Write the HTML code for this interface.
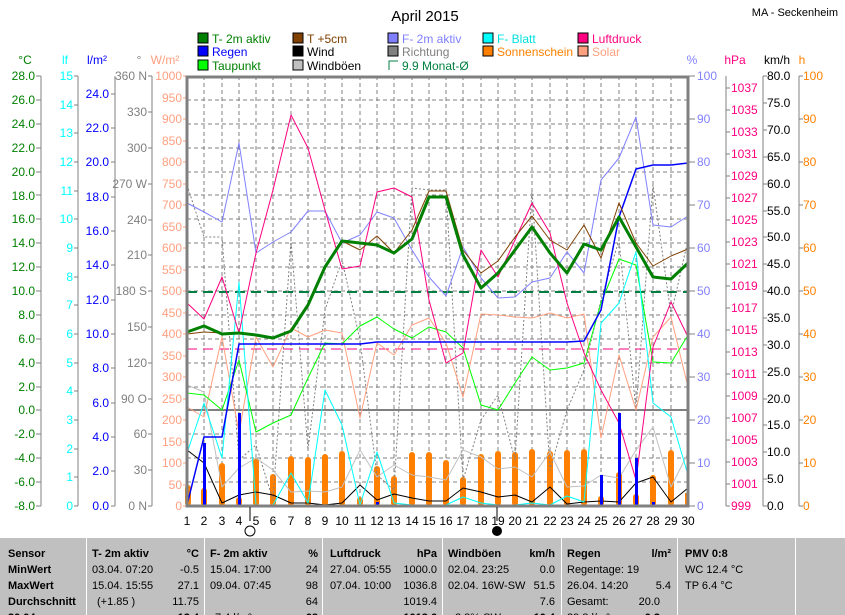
<!DOCTYPE html>
<html><head><meta charset="utf-8"><style>
html,body{margin:0;padding:0;background:#fff;}
svg{display:block;font-family:"Liberation Sans",sans-serif;}
</style></head><body>
<svg width="845" height="615" viewBox="0 0 845 615" xmlns="http://www.w3.org/2000/svg">
<rect width="845" height="615" fill="#fff"/>
<text x="425" y="21" font-size="15" text-anchor="middle">April 2015</text>
<text x="838" y="16" font-size="11" text-anchor="end">MA - Seckenheim</text>

<!-- legend -->
<g font-size="12">
<rect x="198" y="33" width="10" height="10" fill="#008000" stroke="#000"/><text x="212" y="43" fill="#008000">T- 2m aktiv</text>
<rect x="293" y="33" width="10" height="10" fill="#804000" stroke="#000"/><text x="307" y="43" fill="#804000">T +5cm</text>
<rect x="388" y="33" width="10" height="10" fill="#8080ff" stroke="#000"/><text x="402" y="43" fill="#8080ff">F- 2m aktiv</text>
<rect x="483" y="33" width="10" height="10" fill="#00ffff" stroke="#000"/><text x="497" y="43" fill="#00e0e0">F- Blatt</text>
<rect x="578" y="33" width="10" height="10" fill="#ff0080" stroke="#000"/><text x="592" y="43" fill="#ff0080">Luftdruck</text>
<rect x="198" y="46" width="10" height="10" fill="#0000ff" stroke="#000"/><text x="212" y="56" fill="#0000ff">Regen</text>
<rect x="293" y="46" width="10" height="10" fill="#000" stroke="#000"/><text x="307" y="56">Wind</text>
<rect x="388" y="46" width="10" height="10" fill="#808080" stroke="#000"/><text x="402" y="56" fill="#808080">Richtung</text>
<rect x="483" y="46" width="10" height="10" fill="#ff8000" stroke="#000"/><text x="497" y="56" fill="#ff8000">Sonnenschein</text>
<rect x="578" y="46" width="10" height="10" fill="#ffa080" stroke="#000"/><text x="592" y="56" fill="#ffa080">Solar</text>
<rect x="198" y="60" width="10" height="10" fill="#00ff00" stroke="#000"/><text x="212" y="70" fill="#008000">Taupunkt</text>
<rect x="293" y="60" width="10" height="10" fill="#c0c0c0" stroke="#000"/><text x="307" y="70">Windböen</text>
<path d="M389,70 V61 H398" fill="none" stroke="#008040"/><text x="402" y="70" fill="#008040">9.9 Monat-Ø</text>
</g>

<!-- unit labels -->
<g font-size="12">
<text x="25" y="64" fill="#008000" text-anchor="middle">°C</text>
<text x="65" y="64" fill="#00ffff" text-anchor="middle">lf</text>
<text x="97" y="64" fill="#0000ff" text-anchor="middle">l/m²</text>
<text x="139" y="64" fill="#808080" text-anchor="middle">°</text>
<text x="165" y="64" fill="#ffa080" text-anchor="middle">W/m²</text>
<text x="692" y="64" fill="#8080ff" text-anchor="middle">%</text>
<text x="735" y="64" fill="#ff0080" text-anchor="middle">hPa</text>
<text x="777" y="64" text-anchor="middle">km/h</text>
<text x="802" y="64" fill="#ff8000" text-anchor="middle">h</text>
</g>

<!-- axis lines -->
<g stroke="#808080" stroke-width="1">
<line x1="41" y1="76" x2="41" y2="506"/>
<line x1="78" y1="76" x2="78" y2="506"/>
<line x1="115" y1="76" x2="115" y2="506"/>
<line x1="152" y1="76" x2="152" y2="506"/>
<line x1="726" y1="76" x2="726" y2="506"/>
<line x1="763" y1="76" x2="763" y2="506"/>
<line x1="799" y1="76" x2="799" y2="506"/>
</g>

<!-- °C -->
<g font-size="12" fill="#008000" text-anchor="end">
<text x="35" y="80">28.0</text><text x="35" y="104">26.0</text><text x="35" y="128">24.0</text><text x="35" y="152">22.0</text><text x="35" y="176">20.0</text><text x="35" y="200">18.0</text><text x="35" y="223">16.0</text><text x="35" y="247">14.0</text><text x="35" y="271">12.0</text><text x="35" y="295">10.0</text><text x="35" y="319">8.0</text><text x="35" y="343">6.0</text><text x="35" y="367">4.0</text><text x="35" y="391">2.0</text><text x="35" y="414">0.0</text><text x="35" y="438">-2.0</text><text x="35" y="462">-4.0</text><text x="35" y="486">-6.0</text><text x="35" y="510">-8.0</text>
</g>
<path stroke="#808080" d="M36,76h5M36,100h5M36,124h5M36,148h5M36,172h5M36,195h5M36,219h5M36,243h5M36,267h5M36,291h5M36,315h5M36,339h5M36,363h5M36,387h5M36,410h5M36,434h5M36,458h5M36,482h5M36,506h5"/>
<!-- lf -->
<g font-size="12" fill="#00ffff" text-anchor="end">
<text x="73" y="80">15</text><text x="73" y="109">14</text><text x="73" y="137">13</text><text x="73" y="166">12</text><text x="73" y="195">11</text><text x="73" y="223">10</text><text x="73" y="252">9</text><text x="73" y="281">8</text><text x="73" y="309">7</text><text x="73" y="338">6</text><text x="73" y="367">5</text><text x="73" y="395">4</text><text x="73" y="424">3</text><text x="73" y="453">2</text><text x="73" y="481">1</text><text x="73" y="510">0</text>
</g>
<path stroke="#808080" d="M74,76h4M74,105h4M74,133h4M74,162h4M74,191h4M74,219h4M74,248h4M74,277h4M74,305h4M74,334h4M74,363h4M74,391h4M74,420h4M74,449h4M74,477h4M74,506h4"/>
<!-- l/m2 -->
<g font-size="12" fill="#0000ff" text-anchor="end">
<text x="109" y="98">24.0</text><text x="109" y="132">22.0</text><text x="109" y="166">20.0</text><text x="109" y="201">18.0</text><text x="109" y="235">16.0</text><text x="109" y="269">14.0</text><text x="109" y="304">12.0</text><text x="109" y="338">10.0</text><text x="109" y="372">8.0</text><text x="109" y="407">6.0</text><text x="109" y="441">4.0</text><text x="109" y="475">2.0</text><text x="109" y="510">0.0</text>
</g>
<path stroke="#808080" d="M111,94h4M111,128h4M111,162h4M111,197h4M111,231h4M111,265h4M111,300h4M111,334h4M111,368h4M111,403h4M111,437h4M111,471h4M111,506h4"/>
<!-- direction -->
<g font-size="12" fill="#808080" text-anchor="end">
<text x="147" y="80">360 N</text><text x="147" y="116">330</text><text x="147" y="152">300</text><text x="147" y="188">270 W</text><text x="147" y="224">240</text><text x="147" y="259">210</text><text x="147" y="295">180 S</text><text x="147" y="331">150</text><text x="147" y="367">120</text><text x="147" y="403">90 O</text><text x="147" y="438">60</text><text x="147" y="474">30</text><text x="147" y="510">0 N</text>
</g>
<path stroke="#808080" d="M148,76h4M148,112h4M148,148h4M148,184h4M148,220h4M148,255h4M148,291h4M148,327h4M148,363h4M148,399h4M148,434h4M148,470h4M148,506h4"/>
<!-- W/m2 -->
<g font-size="12" fill="#ffa080" text-anchor="end">
<text x="182" y="80">1000</text><text x="182" y="102">950</text><text x="182" y="123">900</text><text x="182" y="145">850</text><text x="182" y="166">800</text><text x="182" y="188">750</text><text x="182" y="209">700</text><text x="182" y="231">650</text><text x="182" y="252">600</text><text x="182" y="274">550</text><text x="182" y="295">500</text><text x="182" y="317">450</text><text x="182" y="338">400</text><text x="182" y="360">350</text><text x="182" y="381">300</text><text x="182" y="403">250</text><text x="182" y="424">200</text><text x="182" y="446">150</text><text x="182" y="467">100</text><text x="182" y="489">50</text><text x="182" y="510">0</text>
</g>
<path stroke="#ffa080" d="M183,76h3M183,98h3M183,119h3M183,141h3M183,162h3M183,184h3M183,205h3M183,227h3M183,248h3M183,270h3M183,291h3M183,313h3M183,334h3M183,356h3M183,377h3M183,399h3M183,420h3M183,442h3M183,463h3M183,485h3M183,506h3"/>

<!-- right axes -->
<g font-size="12" fill="#8080ff">
<text x="697" y="80">100</text><text x="697" y="123">90</text><text x="697" y="166">80</text><text x="697" y="209">70</text><text x="697" y="252">60</text><text x="697" y="295">50</text><text x="697" y="338">40</text><text x="697" y="381">30</text><text x="697" y="424">20</text><text x="697" y="467">10</text><text x="697" y="510">0</text>
</g>
<path stroke="#808080" d="M689,76h6M689,119h6M689,162h6M689,205h6M689,248h6M689,291h6M689,334h6M689,377h6M689,420h6M689,463h6M689,506h6"/>
<g font-size="12" fill="#ff0080">
<text x="731" y="92">1037</text><text x="731" y="114">1035</text><text x="731" y="136">1033</text><text x="731" y="158">1031</text><text x="731" y="180">1029</text><text x="731" y="202">1027</text><text x="731" y="224">1025</text><text x="731" y="246">1023</text><text x="731" y="268">1021</text><text x="731" y="290">1019</text><text x="731" y="312">1017</text><text x="731" y="334">1015</text><text x="731" y="356">1013</text><text x="731" y="378">1011</text><text x="731" y="400">1009</text><text x="731" y="422">1007</text><text x="731" y="444">1005</text><text x="731" y="466">1003</text><text x="731" y="488">1001</text><text x="731" y="510">999</text>
</g>
<path stroke="#808080" d="M726,88h4M726,110h4M726,132h4M726,154h4M726,176h4M726,198h4M726,220h4M726,242h4M726,264h4M726,286h4M726,308h4M726,330h4M726,352h4M726,374h4M726,396h4M726,418h4M726,440h4M726,462h4M726,484h4M726,506h4"/>
<g font-size="12" fill="#000">
<text x="767" y="80">80.0</text><text x="767" y="107">75.0</text><text x="767" y="134">70.0</text><text x="767" y="161">65.0</text><text x="767" y="188">60.0</text><text x="767" y="215">55.0</text><text x="767" y="241">50.0</text><text x="767" y="268">45.0</text><text x="767" y="295">40.0</text><text x="767" y="322">35.0</text><text x="767" y="349">30.0</text><text x="767" y="376">25.0</text><text x="767" y="403">20.0</text><text x="767" y="429">15.0</text><text x="767" y="456">10.0</text><text x="767" y="483">5.0</text><text x="767" y="510">0.0</text>
</g>
<path stroke="#808080" d="M763,76h4M763,103h4M763,130h4M763,157h4M763,184h4M763,211h4M763,237h4M763,264h4M763,291h4M763,318h4M763,345h4M763,372h4M763,399h4M763,425h4M763,452h4M763,479h4M763,506h4"/>
<g font-size="12" fill="#ff8000">
<text x="803" y="80">100</text><text x="803" y="123">90</text><text x="803" y="166">80</text><text x="803" y="209">70</text><text x="803" y="252">60</text><text x="803" y="295">50</text><text x="803" y="338">40</text><text x="803" y="381">30</text><text x="803" y="424">20</text><text x="803" y="467">10</text><text x="803" y="510">0</text>
</g>
<path stroke="#808080" d="M799,76h4M799,119h4M799,162h4M799,205h4M799,248h4M799,291h4M799,334h4M799,377h4M799,420h4M799,463h4M799,506h4"/>

<!-- grid -->
<g stroke="#808080" stroke-dasharray="4,3" stroke-width="1">
<path d="M204,76V506M222,76V506M239,76V506M256,76V506M273,76V506M291,76V506M308,76V506M325,76V506M342,76V506M360,76V506M377,76V506M394,76V506M412,76V506M429,76V506M446,76V506M463,76V506M481,76V506M498,76V506M515,76V506M532,76V506M550,76V506M567,76V506M584,76V506M601,76V506M619,76V506M636,76V506M653,76V506M671,76V506"/>
<path d="M187,100H688M187,124H688M187,148H688M187,172H688M187,195H688M187,219H688M187,243H688M187,267H688M187,291H688M187,315H688M187,339H688M187,363H688M187,387H688M187,434H688M187,458H688M187,482H688"/>
</g>
<line x1="187" y1="410" x2="688" y2="410" stroke="#808080" stroke-width="2"/>
<line x1="187" y1="292" x2="688" y2="292" stroke="#008040" stroke-width="2" stroke-dasharray="10,6"/>
<line x1="187" y1="349" x2="688" y2="349" stroke="#ff0080" stroke-width="1" stroke-dasharray="10,6"/>

<!-- sunshine bars -->
<g fill="#ff8000">
<rect x="185" y="485" width="6" height="21" rx="3"/><rect x="201" y="488" width="6" height="18" rx="3"/><rect x="219" y="463" width="6" height="43" rx="3"/><rect x="236" y="497" width="6" height="9" rx="3"/><rect x="253" y="458" width="6" height="48" rx="3"/><rect x="270" y="474" width="6" height="32" rx="3"/><rect x="288" y="456" width="6" height="50" rx="3"/><rect x="305" y="457" width="6" height="49" rx="3"/><rect x="322" y="454" width="6" height="52" rx="3"/><rect x="339" y="451" width="6" height="55" rx="3"/><rect x="357" y="497" width="6" height="9" rx="3"/><rect x="374" y="466" width="6" height="40" rx="3"/><rect x="391" y="476" width="6" height="30" rx="3"/><rect x="409" y="452" width="6" height="54" rx="3"/><rect x="426" y="452" width="6" height="54" rx="3"/><rect x="443" y="460" width="6" height="46" rx="3"/><rect x="460" y="477" width="6" height="29" rx="3"/><rect x="478" y="454" width="6" height="52" rx="3"/><rect x="495" y="451" width="6" height="55" rx="3"/><rect x="512" y="452" width="6" height="54" rx="3"/><rect x="529" y="449" width="6" height="57" rx="3"/><rect x="547" y="451" width="6" height="55" rx="3"/><rect x="564" y="450" width="6" height="56" rx="3"/><rect x="581" y="449" width="6" height="57" rx="3"/><rect x="598" y="496" width="6" height="10" rx="3"/><rect x="616" y="472" width="6" height="34" rx="3"/><rect x="633" y="494" width="6" height="12" rx="3"/><rect x="650" y="475" width="6" height="31" rx="3"/><rect x="668" y="450" width="6" height="56" rx="3"/><rect x="685" y="493" width="3" height="13"/>
</g>

<g fill="none" stroke-linejoin="round">
<polyline stroke="#808080" stroke-dasharray="2,2" points="187,185 204,237 222,237 239,460 256,445 273,500 291,240 308,450 325,310 342,260 360,340 377,475 394,490 412,188 429,190 446,190 463,480 481,420 498,395 515,460 532,190 550,470 567,410 584,370 601,300 619,240 636,410 653,185 671,315 688,240"/>
<polyline stroke="#c0c0c0" points="187,385 204,392 222,487 239,468 256,458 273,470 291,492 308,491 325,492 342,487 360,450 377,477 394,465 412,475 429,477 446,480 463,450 481,457 498,469 515,467 532,477 550,452 567,487 584,486 601,475 619,478 636,450 653,427 671,487 688,453"/>
<polyline stroke="#000" points="187,450 204,463 222,503 239,495 256,492 273,495 291,503 308,503 325,505 342,503 360,485 377,500 394,494 412,498 429,501 446,501 463,488 481,492 498,497 515,495 532,502 550,487 567,504 584,502 601,501 619,502 636,483 653,477 671,502 688,488"/>
<polyline stroke="#ffa080" points="187,407 204,417 222,337 239,433 256,337 273,367 291,328 308,337 325,330 342,333 360,418 377,343 394,355 412,325 429,318 446,343 463,397 481,314 498,315 515,317 532,318 550,313 567,318 584,314 601,438 619,355 636,410 653,337 671,317 688,387"/>
<polyline stroke="#00ff00" points="187,393 204,395 222,410 239,360 256,432 273,423 291,415 308,378 325,343 342,344 360,326 377,317 394,329 412,338 429,327 446,332 463,348 481,405 498,410 515,383 532,357 550,370 567,368 584,363 601,303 619,259 636,265 653,362 671,363 688,335"/>
<polyline stroke="#00ffff" points="187,453 204,403 222,458 239,282 256,505 273,505 291,473 308,503 325,390 342,425 360,505 377,452 394,503 412,505 429,505 446,505 463,497 481,503 498,505 515,505 532,503 550,505 567,496 584,502 601,323 619,303 636,252 653,403 671,417 688,475"/>
<polyline stroke="#8080ff" points="187,203 204,212 222,222 239,143 256,253 273,242 291,232 308,211 325,211 342,243 360,235 377,212 394,218 412,250 429,277 446,296 463,247 481,278 498,298 515,297 532,282 550,278 567,252 584,273 601,180 619,158 636,117 653,225 671,227 688,216"/>
<polyline stroke="#ff0080" points="187,303 204,319 222,277 239,333 256,253 273,190 291,115 308,148 325,210 342,269 360,266 377,192 394,188 412,197 429,300 446,363 463,353 481,250 498,277 515,240 532,203 550,233 567,303 584,353 601,390 619,423 636,480 653,347 671,302 688,337"/>
<polyline stroke="#0000ff" stroke-width="1.5" points="187,505 204,437 222,437 239,344 256,344 273,344 291,344 308,344 325,344 342,344 360,344 377,342 394,342 412,342 429,342 446,342 463,342 481,342 498,342 515,342 532,342 550,342 567,342 584,341 601,310 619,217 636,169 653,165 671,165 688,163"/>
<polyline stroke="#804000" points="187,334 204,332 222,333 239,333 256,335 273,338 291,331 308,305 325,267 342,241 360,250 377,236 394,253 412,230 429,191 446,191 463,250 481,273 498,261 515,237 532,216 550,240 567,250 584,225 601,258 619,203 636,243 653,266 671,256 688,249"/>
<polyline stroke="#008000" stroke-width="3" points="187,332 204,326 222,334 239,333 256,335 273,338 291,331 308,305 325,267 342,241 360,243 377,245 394,253 412,239 429,197 446,197 463,255 481,288 498,273 515,250 532,227 550,253 567,273 584,244 601,250 619,217 636,247 653,277 671,279 688,263"/>
</g>
<g fill="#0000ff">
<rect x="203" y="443" width="3" height="63"/><rect x="238" y="413" width="3" height="93"/><rect x="376" y="502" width="3" height="4"/><rect x="600" y="475" width="3" height="31"/><rect x="618" y="413" width="3" height="93"/><rect x="635" y="458" width="3" height="48"/><rect x="652" y="502" width="3" height="4"/><rect x="687" y="502" width="2" height="4"/>
</g>
<rect x="187" y="77" width="501" height="429" fill="none" stroke="#808080" stroke-width="3"/>

<g font-size="12" text-anchor="middle">
<text x="187" y="525">1</text><text x="204" y="525">2</text><text x="222" y="525">3</text><text x="239" y="525">4</text><text x="256" y="525">5</text><text x="273" y="525">6</text><text x="291" y="525">7</text><text x="308" y="525">8</text><text x="325" y="525">9</text><text x="342" y="525">10</text><text x="360" y="525">11</text><text x="377" y="525">12</text><text x="394" y="525">13</text><text x="412" y="525">14</text><text x="429" y="525">15</text><text x="446" y="525">16</text><text x="463" y="525">17</text><text x="481" y="525">18</text><text x="498" y="525">19</text><text x="515" y="525">20</text><text x="532" y="525">21</text><text x="550" y="525">22</text><text x="567" y="525">23</text><text x="584" y="525">24</text><text x="601" y="525">25</text><text x="619" y="525">26</text><text x="636" y="525">27</text><text x="653" y="525">28</text><text x="671" y="525">29</text><text x="688" y="525">30</text>
</g>
<line x1="250" y1="507" x2="250" y2="521" stroke="#000"/>
<line x1="497" y1="507" x2="497" y2="521" stroke="#000"/>
<circle cx="250" cy="531" r="5" fill="#fff" stroke="#000"/>
<circle cx="497" cy="531" r="5" fill="#000"/>

<rect x="0" y="538" width="845" height="77" fill="#c0c0c0"/>
<g stroke="#fff" stroke-width="1">
<line x1="86.5" y1="538" x2="86.5" y2="615"/><line x1="204.5" y1="538" x2="204.5" y2="615"/><line x1="322.5" y1="538" x2="322.5" y2="615"/><line x1="442.5" y1="538" x2="442.5" y2="615"/><line x1="561.5" y1="538" x2="561.5" y2="615"/><line x1="677.5" y1="538" x2="677.5" y2="615"/><line x1="795.5" y1="538" x2="795.5" y2="615"/>
</g>
<g font-size="11" fill="#000">
<g font-weight="bold">
<text x="8" y="557">Sensor</text><text x="8" y="573">MinWert</text><text x="8" y="589">MaxWert</text><text x="8" y="605">Durchschnitt</text><text x="8" y="621">30.04.</text>
<text x="92" y="557">T- 2m aktiv</text><text x="199" y="557" text-anchor="end">°C</text>
<text x="210" y="557">F- 2m aktiv</text><text x="318" y="557" text-anchor="end">%</text>
<text x="330" y="557">Luftdruck</text><text x="437" y="557" text-anchor="end">hPa</text>
<text x="448" y="557">Windböen</text><text x="555" y="557" text-anchor="end">km/h</text>
<text x="567" y="557">Regen</text><text x="671" y="557" text-anchor="end">l/m²</text>
<text x="685" y="557">PMV 0:8</text>
<text x="199" y="621" text-anchor="end">12.4</text><text x="318" y="621" text-anchor="end">68</text><text x="437" y="621" text-anchor="end">1013.6</text><text x="555" y="621" text-anchor="end">10.4</text><text x="660" y="621" text-anchor="end">0.2</text>
</g>
<text x="92" y="573">03.04.  07:20</text><text x="199" y="573" text-anchor="end">-0.5</text>
<text x="92" y="589">15.04.  15:55</text><text x="199" y="589" text-anchor="end">27.1</text>
<text x="97" y="605">(+1.85 )</text><text x="199" y="605" text-anchor="end">11.75</text>
<text x="210" y="573">15.04.  17:00</text><text x="318" y="573" text-anchor="end">24</text>
<text x="210" y="589">09.04.  07:45</text><text x="318" y="589" text-anchor="end">98</text>
<text x="318" y="605" text-anchor="end">64</text>
<text x="215" y="621">7.4 l/m²</text>
<text x="330" y="573">27.04.  05:55</text><text x="437" y="573" text-anchor="end">1000.0</text>
<text x="330" y="589">07.04.  10:00</text><text x="437" y="589" text-anchor="end">1036.8</text>
<text x="437" y="605" text-anchor="end">1019.4</text>
<text x="448" y="573">02.04.  23:25</text><text x="555" y="573" text-anchor="end">0.0</text>
<text x="448" y="589">02.04.  16W-SW</text><text x="555" y="589" text-anchor="end">51.5</text>
<text x="555" y="605" text-anchor="end">7.6</text>
<text x="455" y="621">2.8% SW</text>
<text x="567" y="573">Regentage: 19</text>
<text x="567" y="589">26.04.  14:20</text><text x="671" y="589" text-anchor="end">5.4</text>
<text x="567" y="605">Gesamt:</text><text x="660" y="605" text-anchor="end">20.0</text>
<text x="567" y="621">29.8 l/m²</text>
<text x="685" y="573">WC 12.4 °C</text>
<text x="685" y="589">TP 6.4 °C</text>
</g>
</svg>
</body></html>
